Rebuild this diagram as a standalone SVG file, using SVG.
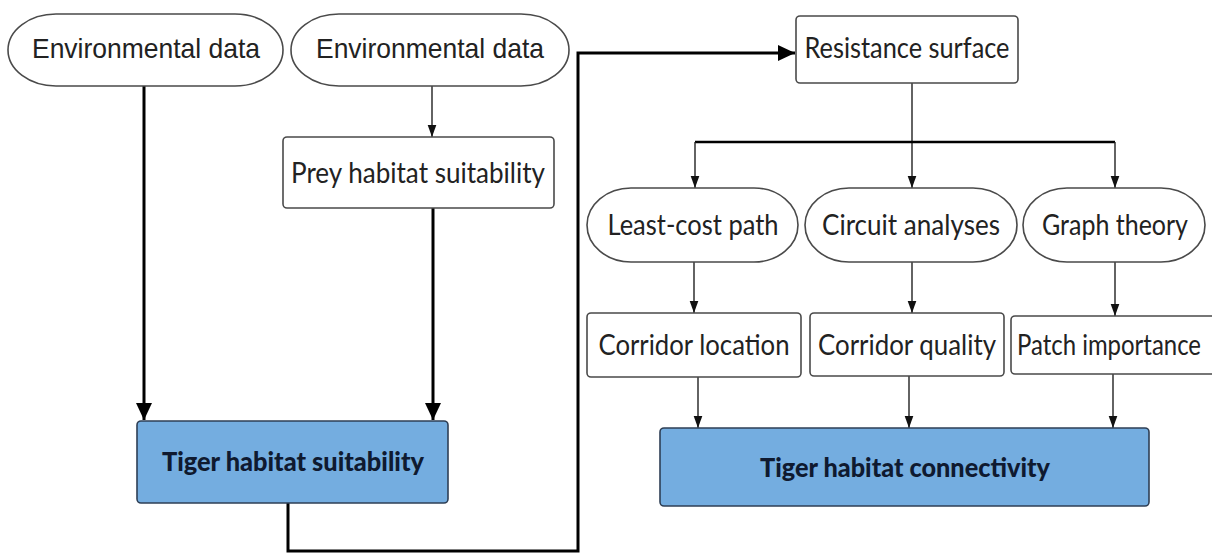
<svg xmlns="http://www.w3.org/2000/svg" width="1212" height="554" viewBox="0 0 1212 554">
<style>
.bg{fill:#ffffff}
.pill{fill:#ffffff;stroke:#4a4a4a;stroke-width:1.6}
.box{fill:#ffffff;stroke:#4a4a4a;stroke-width:1.6}
.blue{fill:#74ade0;stroke:#2e3f55;stroke-width:1.6}
.t1{font-family:"Liberation Sans",Arial,sans-serif;font-size:28px;fill:#222;text-anchor:middle}
.t2{font-family:Lato,"Noto Sans",sans-serif;font-size:28px;fill:#222;text-anchor:middle}
.tb{font-family:Lato,"Noto Sans",sans-serif;font-size:27px;font-weight:900;fill:#0f1a30;text-anchor:middle}
.thick{fill:none;stroke:#000;stroke-width:3}
.mid{fill:none;stroke:#000;stroke-width:2.6}
.thin{fill:none;stroke:#222;stroke-width:1.4}
</style>
<defs>
<marker id="ah" markerUnits="userSpaceOnUse" markerWidth="18" markerHeight="18" viewBox="0 0 18 18" refX="17" refY="9" orient="auto">
<path d="M0,1 L17,9 L0,17 Z" fill="#000"/>
</marker>
<marker id="as" markerUnits="userSpaceOnUse" markerWidth="13" markerHeight="10" viewBox="0 0 13 10" refX="12.5" refY="5" orient="auto">
<path d="M0,0.5 L12.5,5 L0,9.5 Z" fill="#111"/>
</marker>
</defs>
<rect class="bg" x="0" y="0" width="1212" height="554"/>

<g id="connectors">
<path class="thick" d="M144,86 V420" marker-end="url(#ah)"/>
<path class="thin" d="M432,86 V137" marker-end="url(#as)"/>
<path class="thick" d="M433,208 V420" marker-end="url(#ah)"/>
<path class="thick" d="M288,503 V551 H578 V53 H795" marker-end="url(#ah)"/>
<path class="thin" d="M912,83 V188" marker-end="url(#as)"/>
<path class="mid" d="M695,142 H1115"/>
<path class="thin" d="M695,142 V188" marker-end="url(#as)"/>
<path class="thin" d="M1115,142 V188" marker-end="url(#as)"/>
<path class="thin" d="M694,262 V313" marker-end="url(#as)"/>
<path class="thin" d="M912,262 V313" marker-end="url(#as)"/>
<path class="thin" d="M1115,262 V316" marker-end="url(#as)"/>
<path class="thin" d="M698,377 V428" marker-end="url(#as)"/>
<path class="thin" d="M909,376 V428" marker-end="url(#as)"/>
<path class="thin" d="M1113,374 V428" marker-end="url(#as)"/>
</g>

<g id="env1">
<rect class="pill" x="8" y="14" width="275" height="72" rx="48" ry="36"/>
<text class="t1" x="146" y="58" textLength="228" lengthAdjust="spacingAndGlyphs">Environmental data</text>
</g>
<g id="env2">
<rect class="pill" x="291" y="14" width="278" height="72" rx="48" ry="36"/>
<text class="t1" x="430" y="58" textLength="228" lengthAdjust="spacingAndGlyphs">Environmental data</text>
</g>
<g id="prey">
<rect class="box" x="283" y="137" width="271" height="71" rx="4"/>
<text class="t2" x="418" y="183" textLength="254" lengthAdjust="spacingAndGlyphs">Prey habitat suitability</text>
</g>
<g id="tiger-suitability">
<rect class="blue" x="137" y="421" width="311" height="82" rx="4"/>
<text class="tb" x="293" y="471" textLength="262" lengthAdjust="spacingAndGlyphs">Tiger habitat suitability</text>
</g>
<g id="resistance">
<rect class="box" x="796" y="16" width="222" height="67" rx="4"/>
<text class="t2" x="907" y="58" textLength="205" lengthAdjust="spacingAndGlyphs">Resistance surface</text>
</g>
<g id="least-cost">
<rect class="pill" x="587" y="188" width="211" height="74" rx="44" ry="37"/>
<text class="t2" x="693" y="235" textLength="171" lengthAdjust="spacingAndGlyphs">Least-cost path</text>
</g>
<g id="circuit">
<rect class="pill" x="805" y="188" width="212" height="74" rx="44" ry="37"/>
<text class="t2" x="911" y="235" textLength="178" lengthAdjust="spacingAndGlyphs">Circuit analyses</text>
</g>
<g id="graph">
<rect class="pill" x="1023" y="188" width="182" height="74" rx="44" ry="37"/>
<text class="t2" x="1115" y="235" textLength="146" lengthAdjust="spacingAndGlyphs">Graph theory</text>
</g>
<g id="corridor-location">
<rect class="box" x="587" y="313" width="214" height="64" rx="4"/>
<text class="t2" x="694" y="355" textLength="191" lengthAdjust="spacingAndGlyphs">Corridor location</text>
</g>
<g id="corridor-quality">
<rect class="box" x="810" y="313" width="194" height="63" rx="4"/>
<text class="t2" x="907" y="355" textLength="178" lengthAdjust="spacingAndGlyphs">Corridor quality</text>
</g>
<g id="patch-importance">
<rect class="box" x="1011" y="316" width="215" height="58" rx="4"/>
<text class="t2" x="1109" y="355" textLength="184" lengthAdjust="spacingAndGlyphs">Patch importance</text>
</g>
<g id="tiger-connectivity">
<rect class="blue" x="660" y="428" width="489" height="78" rx="4"/>
<text class="tb" x="905" y="477" textLength="290" lengthAdjust="spacingAndGlyphs">Tiger habitat connectivity</text>
</g>
</svg>
